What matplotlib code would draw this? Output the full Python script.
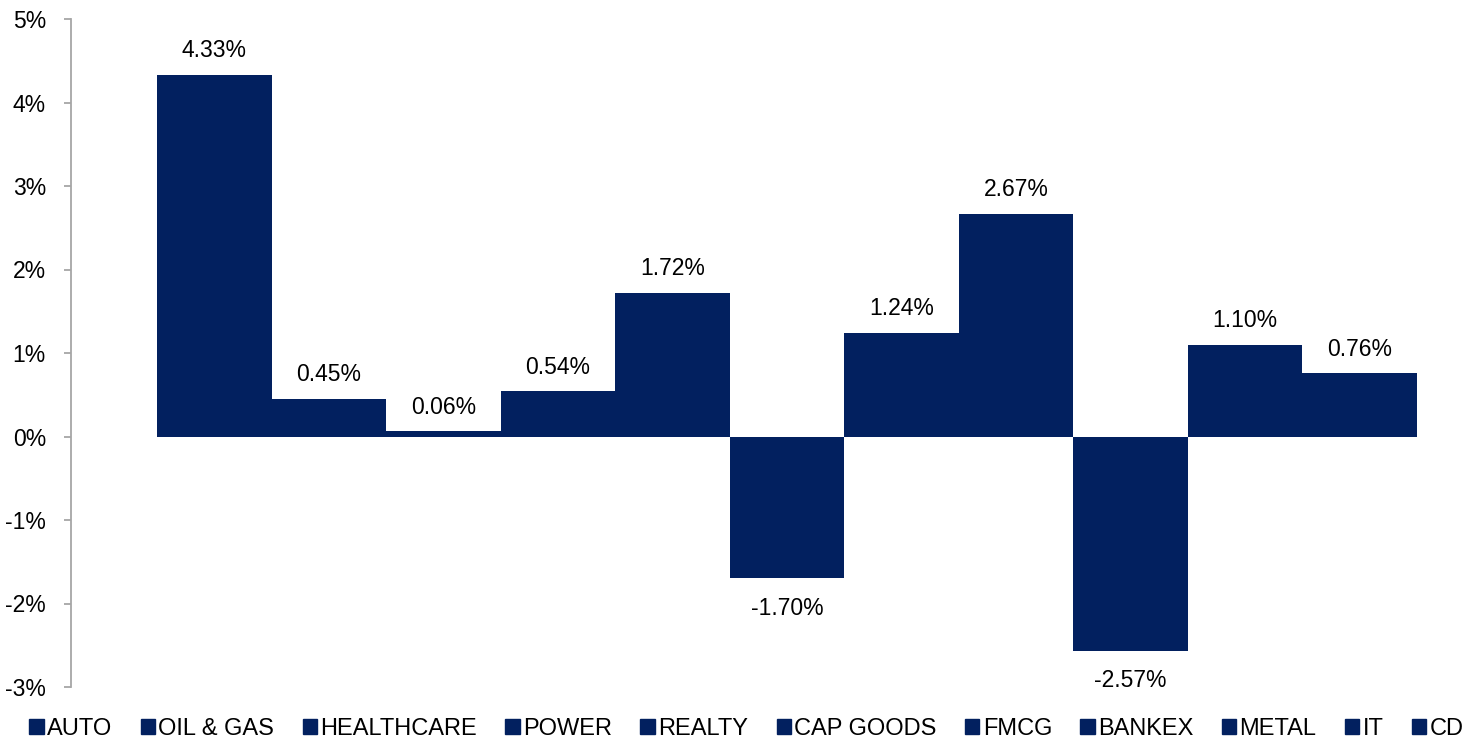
import numpy as np
import matplotlib.pyplot as plt
from matplotlib.patches import Patch

plt.rcParams['font.family'] = ['Liberation Sans', 'DejaVu Sans']

# Секторы и их изменение, %
sectors = ['AUTO', 'OIL & GAS', 'HEALTHCARE', 'POWER', 'REALTY', 'CAP GOODS',
           'FMCG', 'BANKEX', 'METAL', 'IT', 'CD']
changes = [4.33, 0.45, 0.06, 0.54, 1.72, -1.70, 1.24, 2.67, -2.57, 1.10, 0.76]
y_ticks = [-3, -2, -1, 0, 1, 2, 3, 4, 5]

navy = '#02205f'
fs = 16.5

fig = plt.figure(figsize=(14.84, 7.42), dpi=100)
ax = fig.add_axes([71 / 1484, 55 / 742, (1474 - 71) / 1484, 668 / 742])

x = np.arange(len(sectors))
ax.bar(x, changes, width=1.0, color=navy, linewidth=0)

for xi, v in zip(x, changes):
    if v >= 0:
        ax.annotate(f'{v:.2f}%', (xi, v), xytext=(0, 9), textcoords='offset points',
                    ha='center', va='bottom', fontsize=fs)
    else:
        ax.annotate(f'{v:.2f}%', (xi, v), xytext=(0, -13), textcoords='offset points',
                    ha='center', va='top', fontsize=fs)

ax.set_xlim(-1.251, 10.998)
ax.set_ylim(-3, 5)
ax.set_yticks(y_ticks)
ax.set_yticklabels([f'{t}%' for t in y_ticks], fontsize=fs)
ax.set_xticks([])

for s in ['top', 'right', 'bottom']:
    ax.spines[s].set_visible(False)
ax.spines['left'].set_color('#a6a6a6')
ax.spines['left'].set_linewidth(1.3)
ax.tick_params(axis='y', length=5, width=1.3, color='#a6a6a6', pad=13)

handles = [Patch(color=navy, label=s) for s in sectors]
fig.legend(handles=handles, loc='center', bbox_to_anchor=(0.503, 0.018),
           ncol=len(sectors), frameon=False, fontsize=17, handlelength=0.6,
           handleheight=0.6, handletextpad=0.15, columnspacing=1.2)

fig.savefig('out.png', dpi=100)
